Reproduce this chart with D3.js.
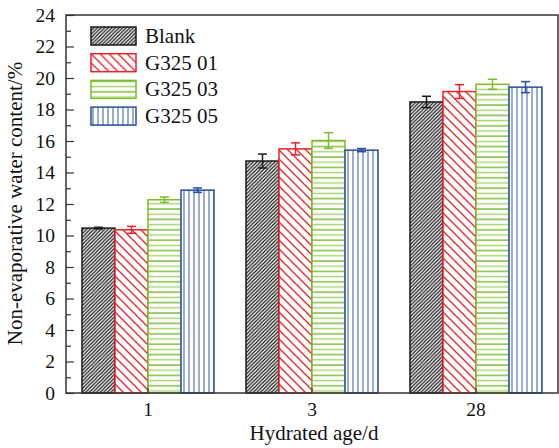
<!DOCTYPE html>
<html>
<head>
<meta charset="utf-8">
<script src="https://cdn.jsdelivr.net/npm/d3@7"></script>
<style>
  html, body { margin: 0; padding: 0; background: #fff; }
  svg { display: block; }
  svg text { font-family: "Liberation Serif", "Times New Roman", serif !important; }
</style>
</head>
<body>
<svg id="chart" width="559" height="448"></svg>
<script>
const categories = ["1", "3", "28"];
const seriesNames = ["Blank", "G325 01", "G325 03", "G325 05"];
const blankValues = [10.47, 14.73, 18.48];
const g01Values   = [10.36, 15.50, 19.14];
const g03Values   = [12.27, 16.03, 19.60];
const g05Values   = [12.88, 15.42, 19.42];
const blankErr = [0.05, 0.44, 0.36];
const g01Err   = [0.22, 0.38, 0.44];
const g03Err   = [0.17, 0.50, 0.32];
const g05Err   = [0.14, 0.10, 0.35];
const yTicks = [0, 2, 4, 6, 8, 10, 12, 14, 16, 18, 20, 22, 24];
const yMinorTicks = [1, 3, 5, 7, 9, 11, 13, 15, 17, 19, 21, 23];

const FONT = "Liberation Serif";
const colors = ["#1a1a1a", "#e8212b", "#7dbb2a", "#2a4d9e"];
const values = [blankValues, g01Values, g03Values, g05Values];
const errs = [blankErr, g01Err, g03Err, g05Err];

const svg = d3.select("#chart").attr("font-family", FONT);
const pL = 66, pR = 558, pT = 15, pB = 393;

const x0 = d3.scaleBand().domain(categories).range([pL, pR])
  .paddingInner(0.195).paddingOuter(0.0975);
const x1 = d3.scaleBand().domain(seriesNames).range([0, x0.bandwidth()]);
const y = d3.scaleLinear().domain([0, 24]).range([pB, pT]);

// patterns
const defs = svg.append("defs");
const p0 = defs.append("pattern").attr("id", "pat0").attr("patternUnits", "userSpaceOnUse")
  .attr("width", 3.6).attr("height", 3.6);
p0.append("rect").attr("width", 3.6).attr("height", 3.6).attr("fill", "#fff");
p0.append("path").attr("d", "M0,3.6 L3.6,0 M-1,1 L1,-1 M2.6,4.6 L4.6,2.6")
  .attr("stroke", "#111").attr("stroke-width", 1.2);
const p1 = defs.append("pattern").attr("id", "pat1").attr("patternUnits", "userSpaceOnUse")
  .attr("width", 9).attr("height", 9);
p1.append("rect").attr("width", 9).attr("height", 9).attr("fill", "#fff");
p1.append("path").attr("d", "M0,0 L9,9 M-1,8 L1,10 M8,-1 L10,1")
  .attr("stroke", colors[1]).attr("stroke-width", 1.3);
const p2 = defs.append("pattern").attr("id", "pat2").attr("patternUnits", "userSpaceOnUse")
  .attr("width", 10).attr("height", 10.4);
p2.append("rect").attr("width", 10).attr("height", 10.4).attr("fill", "#fff");
p2.append("path").attr("d", "M0,1 L10,1").attr("stroke", "#6cb31f").attr("stroke-width", 1.3);
p2.append("path").attr("d", "M0,6.2 L10,6.2").attr("stroke", "#a9d572").attr("stroke-width", 1.5);
const p3 = defs.append("pattern").attr("id", "pat3").attr("patternUnits", "userSpaceOnUse")
  .attr("width", 5).attr("height", 10).attr("x", 1);
p3.append("rect").attr("width", 5).attr("height", 10).attr("fill", "#fff");
p3.append("path").attr("d", "M1,0 L1,10").attr("stroke", "#5f7fc2").attr("stroke-width", 1.3);

// bars
const rows = categories.map((c, i) => ({
  cat: c,
  items: seriesNames.map((s, j) => ({ s, j, v: values[j][i], e: errs[j][i] }))
}));
const g = svg.append("g").selectAll("g").data(rows).join("g")
  .attr("transform", d => `translate(${x0(d.cat)},0)`);
g.selectAll("rect").data(d => d.items).join("rect")
  .attr("x", d => x1(d.s)).attr("y", d => y(d.v))
  .attr("width", x1.bandwidth()).attr("height", d => y(0) - y(d.v))
  .attr("fill", d => `url(#pat${d.j})`)
  .attr("stroke", d => colors[d.j]).attr("stroke-width", 1.5);

// error bars
const eb = g.selectAll("g.err").data(d => d.items).join("g").attr("class", "err")
  .attr("stroke", d => colors[d.j]).attr("stroke-width", 1.5);
const cx = d => x1(d.s) + x1.bandwidth() / 2;
eb.append("line").attr("x1", cx).attr("x2", cx)
  .attr("y1", d => y(d.v + d.e)).attr("y2", d => y(d.v - d.e));
eb.append("line").attr("x1", d => cx(d) - 4.5).attr("x2", d => cx(d) + 4.5)
  .attr("y1", d => y(d.v + d.e)).attr("y2", d => y(d.v + d.e));
eb.append("line").attr("x1", d => cx(d) - 4.5).attr("x2", d => cx(d) + 4.5)
  .attr("y1", d => y(d.v - d.e)).attr("y2", d => y(d.v - d.e));

// axes
const yAxis = svg.append("g").attr("transform", `translate(${pL},0)`)
  .call(d3.axisLeft(y).tickValues(yTicks).tickSize(-8).tickPadding(11).tickFormat(d3.format("d")));
yAxis.attr("font-family", FONT).attr("font-size", 19.5);
yAxis.select(".domain").remove();
yAxis.selectAll(".tick line").attr("stroke", "#333").attr("stroke-width", 1.2);
yAxis.selectAll("text").attr("fill", "#111");
const yMinor = svg.append("g").attr("transform", `translate(${pL},0)`)
  .call(d3.axisLeft(y).tickValues(yMinorTicks).tickSize(-5).tickFormat(""));
yMinor.select(".domain").remove();
yMinor.selectAll(".tick line").attr("stroke", "#333").attr("stroke-width", 1.2);

const xAxis = svg.append("g").attr("transform", `translate(0,${pB})`)
  .call(d3.axisBottom(x0).tickSize(-5).tickPadding(9));
xAxis.attr("font-family", FONT).attr("font-size", 19.5);
xAxis.select(".domain").remove();
xAxis.selectAll(".tick line").attr("stroke", "#333").attr("stroke-width", 1.2);
xAxis.selectAll("text").attr("fill", "#111");

// frame
svg.append("rect").attr("x", pL).attr("y", pT).attr("width", pR - pL).attr("height", pB - pT)
  .attr("fill", "none").attr("stroke", "#333").attr("stroke-width", 1.5);

// titles
svg.append("text").attr("x", (pL + pR) / 2 + 2).attr("y", 439.5).attr("text-anchor", "middle")
  .attr("font-size", 21).attr("fill", "#111").text("Hydrated age/d");
svg.append("text").attr("transform", `translate(22,203.5) rotate(-90)`)
  .attr("text-anchor", "middle").attr("font-size", 21)
  .attr("fill", "#111").text("Non-evaporative water content/%");

// legend
const leg = svg.append("g").selectAll("g").data(seriesNames).join("g")
  .attr("transform", (d, i) => `translate(91,${27 + i * 26.7})`);
leg.append("rect").attr("width", 45).attr("height", 18)
  .attr("fill", (d, i) => `url(#pat${i})`).attr("stroke", (d, i) => colors[i]).attr("stroke-width", 1.5);
leg.append("text").attr("x", 54).attr("y", 16).attr("font-size", 21)
  .attr("fill", "#111").text(d => d);

svg.selectAll("text").style("font-family", "'Liberation Serif', 'Times New Roman', serif", "important");
</script>
</body>
</html>
